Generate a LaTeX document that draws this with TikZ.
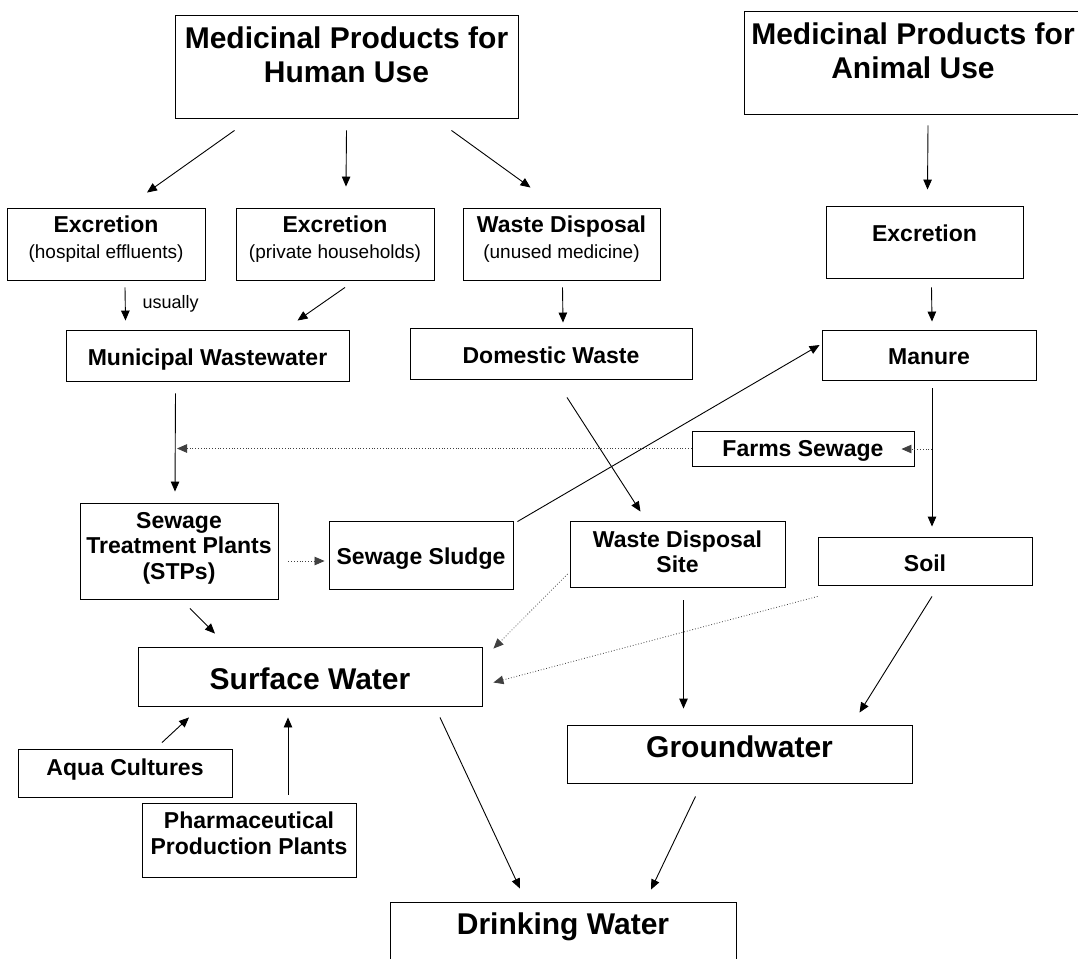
\documentclass[tikz,border=0pt]{standalone}
\usepackage{fontspec}
\setmainfont{Liberation Sans}
\usetikzlibrary{arrows.meta}

\newcommand\subtxt[1]{{\fontsize{19}{22}\selectfont\mdseries #1}}

\begin{document}
\begin{tikzpicture}[
  x=1pt, y=-1pt,
  box/.style={draw, line width=0.9pt, align=center, inner sep=2pt},
  title/.style={box, font=\fontsize{30}{34}\selectfont\bfseries},
  big/.style={box, font=\fontsize{30}{34}\selectfont\bfseries},
  mid/.style={box, font=\fontsize{23}{25.5}\selectfont\bfseries},
  arr/.style={-{Triangle[length=10pt,width=8.5pt]}, line width=0.9pt},
  dotarr/.style={-{Triangle[length=10pt,width=8.5pt]}, line width=0.8pt, dotted, black!75}
]

% Page in pixel units of the original (y grows downwards).
\useasboundingbox (0,0) rectangle (1078,958);
\clip (0,0) rectangle (1078,958);

% Sources: human and animal use.
\node[title, minimum width=343pt, minimum height=103pt, text depth=23pt] (hum) at (346.5,66.5) {Medicinal Products for\\Human Use};
\node[title, minimum width=338pt, minimum height=103pt, text depth=24pt] (ani) at (913,62.5) {Medicinal Products for\\Animal Use};

\node[mid, minimum width=198pt, minimum height=72pt, text depth=14pt] (excH) at (106,244) {Excretion\\\subtxt{(hospital effluents)}};
\node[mid, minimum width=198pt, minimum height=72pt, text depth=14pt] (excP) at (335,244) {Excretion\\\subtxt{(private households)}};
\node[mid, minimum width=197pt, minimum height=72pt, text depth=14pt] (wdisp) at (561.5,244) {Waste Disposal\\\subtxt{(unused medicine)}};
\node[mid, minimum width=197pt, minimum height=72pt, text height=0pt, text depth=1.5pt] (excA) at (924.5,242) {Excretion};

\node[mid, minimum width=283pt, minimum height=51pt, text height=19.5pt, text depth=0pt] (mun) at (207.5,355.5) {Municipal Wastewater};
\node[mid, minimum width=282pt, minimum height=51pt, text height=19.5pt, text depth=0pt] (dom) at (551,353.5) {Domestic Waste};
\node[mid, minimum width=214pt, minimum height=50pt, text height=18.5pt, text depth=0pt] (man) at (929,355) {Manure};
\node[mid, minimum width=222pt, minimum height=35pt, text height=15.5pt, text depth=0pt] (farm) at (803,448.5) {Farms Sewage};

\node[mid, minimum width=198pt, minimum height=96pt, text depth=11pt] (stp) at (179,551) {Sewage\\Treatment Plants\\(STPs)};
\node[mid, minimum width=184pt, minimum height=68pt, text height=18.5pt, text depth=0pt] (sludge) at (421,555) {Sewage Sludge};
\node[mid, minimum width=215pt, minimum height=66pt, text depth=5pt] (wds) at (677.5,554) {Waste Disposal\\Site};
\node[mid, minimum width=214pt, minimum height=48pt, text height=20.5pt, text depth=0pt] (soil) at (925,561) {Soil};

% Waters and the remaining inputs.
\node[big, minimum width=344pt, minimum height=59pt, text height=26.5pt, text depth=0pt] (sw) at (310,676.5) {Surface Water};
\node[big, minimum width=345pt, minimum height=58pt, text height=7.5pt, text depth=0pt] (gw) at (739.5,754) {Groundwater};
\node[mid, minimum width=214pt, minimum height=48pt, text height=4.5pt, text depth=0pt] (aqua) at (125,773) {Aqua Cultures};
\node[mid, minimum width=214pt, minimum height=74pt, text depth=14pt] (pharma) at (249,840) {Pharmaceutical\\Production Plants};
\node[big, minimum width=346pt, minimum height=64pt, text height=1.5pt, text depth=0pt] (dw) at (563,934) {Drinking Water};

% Taps on the manure-soil line and the wastewater-STP line.
\coordinate (split) at (932,449);
\coordinate (merge) at (177,448.5);

% Human use.
\draw[arr] ([xshift=-112pt,yshift=-12pt]hum.south) -- ([xshift=41pt,yshift=15pt]excH.north);
\draw[arr] ([yshift=-12pt]hum.south) -- ([xshift=11pt,yshift=21pt]excP.north);
\draw[arr] ([xshift=105pt,yshift=-12pt]hum.south) -- ([xshift=-31pt,yshift=20pt]wdisp.north);
\draw[arr] ([xshift=19pt,yshift=-7pt]excH.south) -- node[midway, right=17pt, inner sep=0pt, font=\fontsize{18}{22}\selectfont] {usually} ([xshift=-82pt,yshift=9pt]mun.north);
\draw[arr] ([xshift=10pt,yshift=-7pt]excP.south) -- ([xshift=90pt,yshift=9pt]mun.north);
\draw[arr] ([xshift=1pt,yshift=-7pt]wdisp.south) -- ([xshift=12pt,yshift=5pt]dom.north);
\draw[arr] ([xshift=-32pt,yshift=-12pt]mun.south) -- ([xshift=-4pt,yshift=11pt]stp.north);

% Animal use.
\draw[arr] ([xshift=15pt,yshift=-11pt]ani.south) -- ([xshift=3pt,yshift=16pt]excA.north);
\draw[arr] ([xshift=7pt,yshift=-9pt]excA.south) -- ([xshift=3pt,yshift=8pt]man.north);
\draw[arr] ([xshift=3pt,yshift=-8pt]man.south) -- ([xshift=7pt,yshift=10pt]soil.north);
\draw[dotarr] (split) -- ([xshift=-13pt,yshift=-0.5pt]farm.east);
\draw[dotarr] (farm.west) -- (merge);

% Treatment and disposal.
\draw[dotarr] ([xshift=10pt,yshift=-10pt]stp.east) -- ([xshift=-4pt,yshift=-6pt]sludge.west);
\draw[arr] ([xshift=4pt,yshift=-1pt]sludge.north east) -- ([xshift=-2pt,yshift=10pt]man.west);
\draw[arr] ([xshift=16pt,yshift=-18pt]dom.south) -- ([xshift=-37pt,yshift=9pt]wds.north);

% Into the waters.
\draw[arr] ([xshift=11pt,yshift=-9pt]stp.south) -- ([xshift=-95pt,yshift=13pt]sw.north);
\draw[dotarr] ([xshift=-2pt,yshift=-20pt]wds.west) -- ([xshift=11pt,yshift=-2pt]sw.north east);
\draw[dotarr] ([yshift=-11pt]soil.south west) -- ([xshift=11pt,yshift=-6pt]sw.east);
\draw[arr] ([xshift=6pt,yshift=-13pt]wds.south) -- ([xshift=-56pt,yshift=16pt]gw.north);
\draw[arr] ([xshift=7pt,yshift=-11pt]soil.south) -- ([xshift=120pt,yshift=12pt]gw.north);
\draw[arr] ([xshift=37pt,yshift=6pt]aqua.north) -- ([xshift=-121pt,yshift=-11pt]sw.south);
\draw[arr] ([xshift=39pt,yshift=8pt]pharma.north) -- ([xshift=-22pt,yshift=-11pt]sw.south);
\draw[arr] ([xshift=130pt,yshift=-11pt]sw.south) -- ([xshift=-43pt,yshift=13pt]dw.north);
\draw[arr] ([xshift=-44pt,yshift=-13pt]gw.south) -- ([xshift=88pt,yshift=12pt]dw.north);

\end{tikzpicture}
\end{document}
